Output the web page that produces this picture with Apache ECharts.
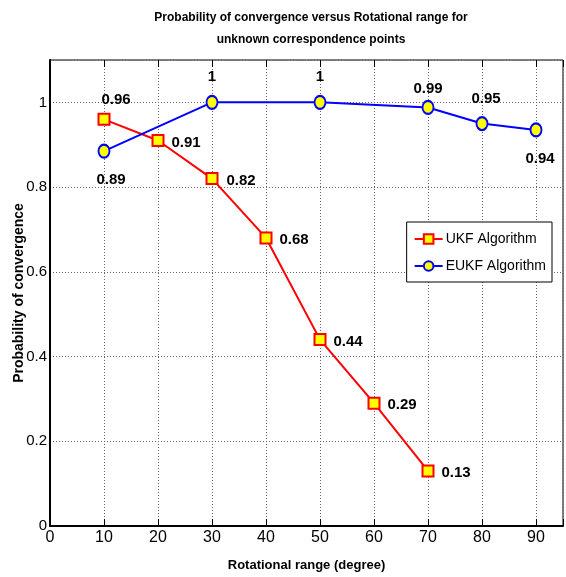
<!DOCTYPE html>
<html>
<head>
<meta charset="utf-8">
<script src="https://cdn.jsdelivr.net/npm/echarts@6/dist/echarts.min.js"></script>
<style>
html, body { margin: 0; padding: 0; background: #fff; }
#main { width: 566px; height: 577px; }
</style>
</head>
<body>
<div id="main"></div>
<script>
// 横轴角度
var rotation = [10, 20, 30, 40, 50, 60, 70, 80, 90];
// UKF 数据 (到70为止)
var ukfValues = [0.96, 0.91, 0.82, 0.68, 0.44, 0.29, 0.13];
var ukfLabels = ['0.96', '0.91', '0.82', '0.68', '0.44', '0.29', '0.13'];
// EUKF 数据 (20, 40, 60 没有点)
var eukfX = [10, 30, 50, 70, 80, 90];
var eukfValues = [0.885, 1, 1, 0.988, 0.95, 0.935];
var eukfLabels = ['0.89', '1', '1', '0.99', '0.95', '0.94'];
var xTicks = [0, 10, 20, 30, 40, 50, 60, 70, 80, 90];
var yTicks = [0, 0.2, 0.4, 0.6, 0.8, 1];

var font = "'Liberation Sans Narrow', 'Liberation Sans', Arial, sans-serif";
var lblStyle = { fontFamily: font, fontWeight: 'bold', fontSize: 15, color: '#000' };

// 每个点的标签位置
var ukfPos = [[12, -19], [28, 2], [29, 2], [28, 2], [28, 2], [28, 2], [28, 2]];
var eukfPos = [[7, 29], [0, -26], [0, -26], [0, -19], [4, -25], [4, 29]];

var ukfData = [];
for (var i = 0; i < ukfValues.length; i++) {
	ukfData.push({
		value: [rotation[i], ukfValues[i]],
		label: { show: true, position: 'inside', offset: ukfPos[i], formatter: ukfLabels[i] }
	});
}
var eukfData = [];
for (var j = 0; j < eukfValues.length; j++) {
	eukfData.push({
		value: [eukfX[j], eukfValues[j]],
		label: { show: true, position: 'inside', offset: eukfPos[j], formatter: eukfLabels[j] }
	});
}

var myChart = echarts.init(document.getElementById('main'));
var splitDot = { show: true, lineStyle: { color: '#666', type: [1, 2], width: 1 } };

var option = {
	backgroundColor: '#fff',
	animation: false,
	title: {
		text: 'Probability of convergence versus Rotational range for\nunknown correspondence points',
		left: 306, top: 2, textAlign: 'center',
		textStyle: { fontFamily: font, fontWeight: 'bold', fontSize: 12, color: '#000', lineHeight: 22 }
	},
	legend: {
		orient: 'vertical',
		right: 14, top: 222,
		padding: [10, 6, 9, 7],
		itemGap: 13,
		itemWidth: 28, itemHeight: 12,
		borderColor: '#000', borderWidth: 1,
		backgroundColor: '#fff',
		textStyle: { fontFamily: font, fontSize: 14, color: '#000', padding: [0, 0, 0, -2] },
		data: ['UKF Algorithm', 'EUKF Algorithm']
	},
	grid: {
		left: 50, right: 3, top: 60, bottom: 51, containLabel: false, outerBoundsMode: 'none',
		show: true, borderColor: '#000', borderWidth: 1
	},
	xAxis: [{
		type: 'value', min: 0, max: 95, interval: 10,
		axisLine: { lineStyle: { color: '#000', width: 2 } },
		axisTick: { inside: true, length: 7, lineStyle: { color: '#000' } },
		axisLabel: {
			fontFamily: font, fontSize: 16, color: '#000', margin: 4,
			formatter: function (v) { return xTicks.indexOf(v) >= 0 ? v : ''; }
		},
		splitLine: splitDot,
		name: 'Rotational range (degree)', nameLocation: 'middle', nameGap: 33,
		nameMoveOverlap: false,
		nameTextStyle: { fontFamily: font, fontWeight: 'bold', fontSize: 13, color: '#000' }
	}, {
		type: 'value', min: 0, max: 95, interval: 10, position: 'top',
		axisLine: { show: false },
		axisTick: { show: true, inside: true, length: 7, lineStyle: { color: '#000' } },
		axisLabel: { show: false }, splitLine: { show: false }
	}],
	yAxis: [{
		type: 'value', min: 0, max: 1.1, interval: 0.2,
		axisLine: { show: true, lineStyle: { color: '#000', width: 2 } },
		axisTick: { show: false },
		axisLabel: {
			fontFamily: font, fontSize: 15, color: '#000', margin: 3,
			formatter: function (v) {
				for (var k = 0; k < yTicks.length; k++) {
					if (Math.abs(yTicks[k] - v) < 1e-6) return String(yTicks[k]);
				}
				return '';
			}
		},
		splitLine: splitDot,
		name: 'Probability of convergence', nameLocation: 'middle', nameGap: 24,
		nameMoveOverlap: false,
		nameTextStyle: { fontFamily: font, fontWeight: 'bold', fontSize: 14, color: '#000' }
	}],
	series: [{
		name: 'UKF Algorithm',
		type: 'line',
		data: ukfData,
		symbol: 'rect', symbolSize: 11,
		lineStyle: { color: '#ff0000', width: 2 },
		itemStyle: { color: '#ffff00', borderColor: '#ff0000', borderWidth: 2 },
		label: lblStyle,
		z: 3
	}, {
		name: 'EUKF Algorithm',
		type: 'line',
		data: eukfData,
		symbol: 'circle', symbolSize: [11, 13],
		lineStyle: { color: '#0000ff', width: 2 },
		itemStyle: { color: '#ffff00', borderColor: '#0000ff', borderWidth: 2 },
		label: lblStyle,
		z: 4
	}]
};
myChart.setOption(option);
</script>
</body>
</html>
